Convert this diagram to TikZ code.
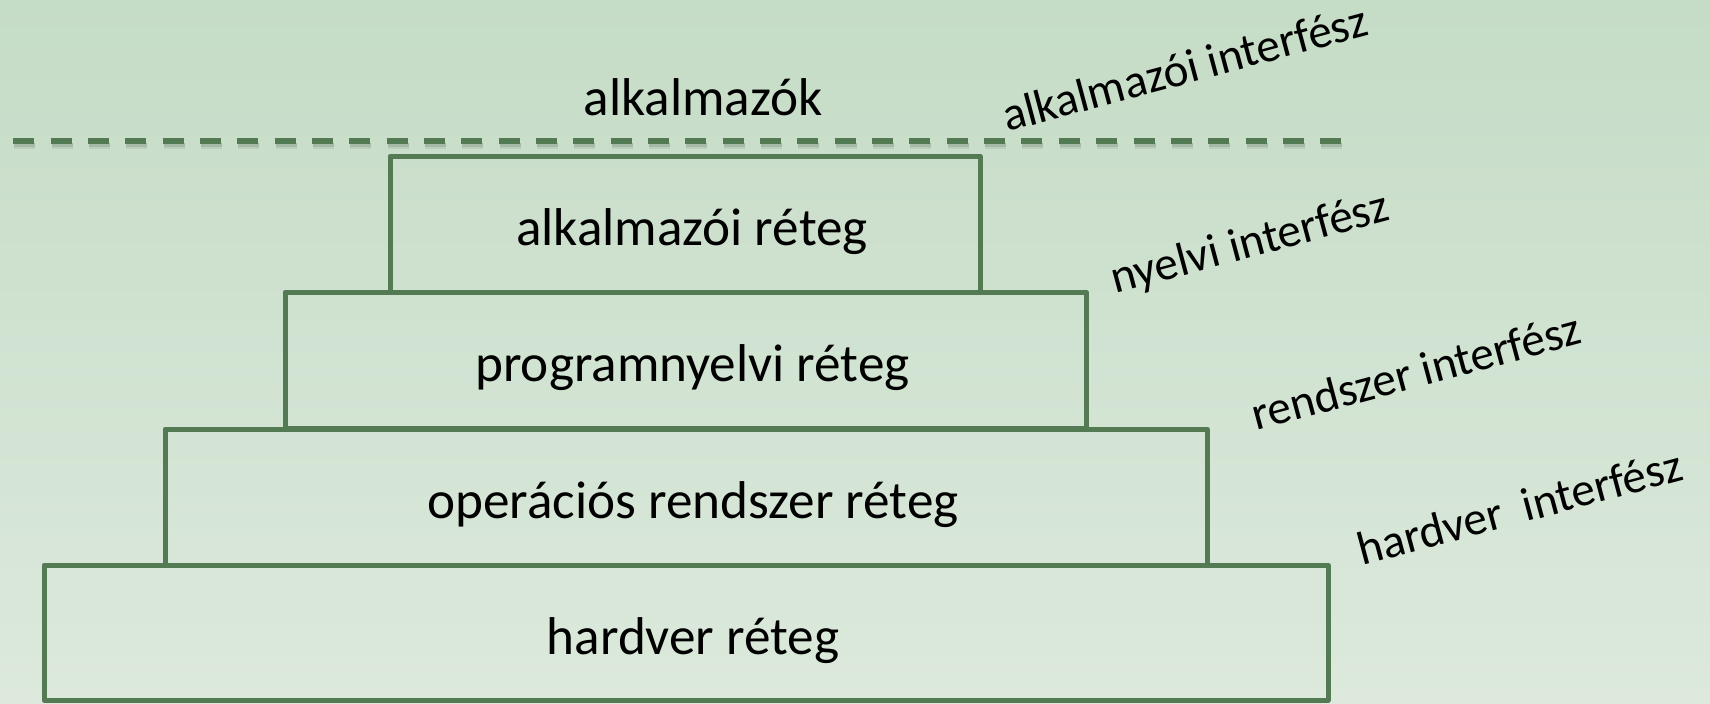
\documentclass[tikz,border=0pt]{standalone}
\usepackage{fontspec}
\setmainfont{Carlito}
\definecolor{bgtop}{RGB}{197,220,198}
\definecolor{bgbot}{RGB}{220,233,220}
\definecolor{edge}{RGB}{84,122,84}
\begin{document}
\begin{tikzpicture}[x=0.5pt,y=-0.5pt,
  layer/.style={draw=edge,line width=2.5pt,line join=round,inner sep=0pt,font=\fontsize{26.6}{30}\selectfont,text=black,text height=21.5pt,text depth=0pt},
  ltext/.style={inner sep=0pt,font=\fontsize{26.6}{30}\selectfont,text=black,anchor=base,xshift=3.5pt},
  iface/.style={rotate=15,anchor=base west,inner sep=0pt,font=\fontsize{23.6}{28}\selectfont,text=black},
  sepline/.style={draw=edge,line width=2.7pt,dash pattern=on 10.5pt off 8.17pt},
  sepshadow/.style={draw=black,line width=3pt,dash pattern=on 10.5pt off 8.17pt}]
\shade[top color=bgtop,bottom color=bgbot] (0,0) rectangle (1710,703);
\useasboundingbox (0,0) rectangle (1710,703);
% separator
\coordinate (sl) at (13.3,141);
\coordinate (sr) at (1341,141);
\draw[sepshadow,opacity=0.07] ([shift={(1,5)}]sl) -- ([shift={(1,5)}]sr);
\draw[sepshadow,opacity=0.10,line width=2pt] ([shift={(1,4)}]sl) -- ([shift={(1,4)}]sr);
\draw[sepline] (sl) -- (sr);
\node[font=\fontsize{26.6}{30}\selectfont,inner sep=0pt,anchor=base] (apps) at (703,115) {alkalmazók};
% layers
\node[layer,minimum width=642pt,minimum height=67.5pt] (l4) at (686,632.5) {};
\node[layer,minimum width=521pt,minimum height=68pt] (l3) at (686,497) {};
\node[layer,minimum width=400.5pt,minimum height=68pt] (l2) at (685.5,360) {};
\node[layer,minimum width=295pt,minimum height=68pt] (l1) at (685,224) {};
\node[ltext] (t4) at ([yshift=-10.75pt]l4.center) {hardver réteg};
\node[ltext] (t3) at ([yshift=-10.75pt]l3.center) {operációs rendszer réteg};
\node[ltext] (t2) at ([yshift=-10.75pt]l2.center) {programnyelvi réteg};
\node[ltext] (t1) at ([yshift=-10.75pt]l1.center) {alkalmazói réteg};
% interface labels
\node[iface] (i1) at (1007,132) {alkalmazói interfész};
\node[iface] (i2) at (1115,294) {nyelvi interfész};
\node[iface] (i3) at (1256,431) {rendszer interfész};
\node[iface] (i4) at (1362,566) {hardver~~interfész};
\end{tikzpicture}
\end{document}
